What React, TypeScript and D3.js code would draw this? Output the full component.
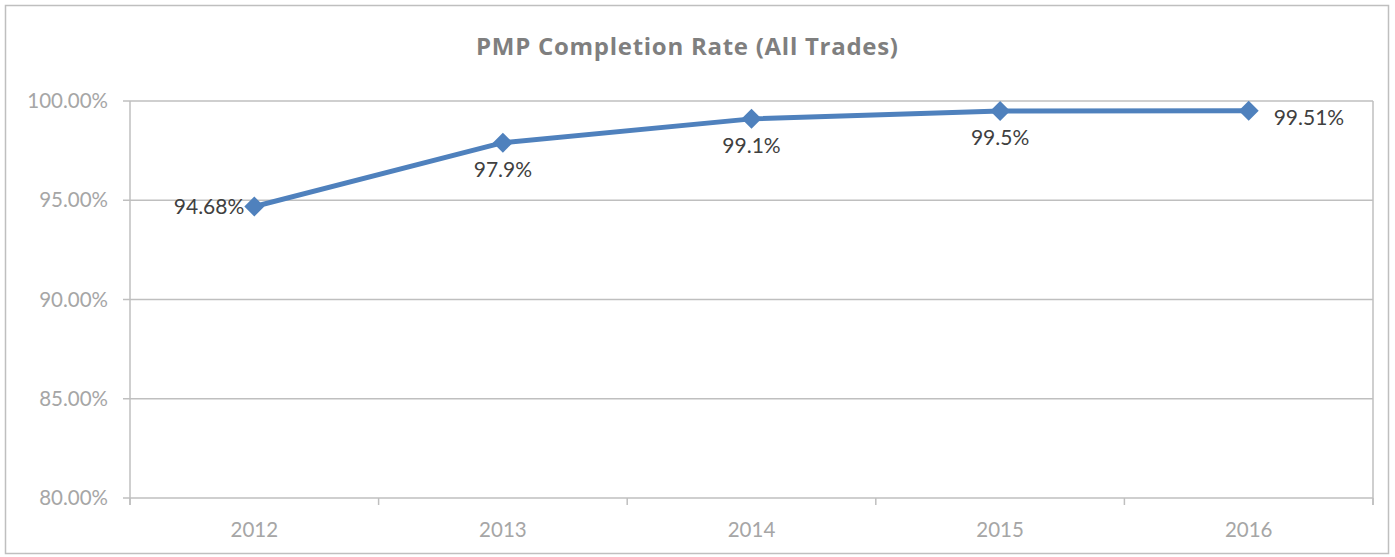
import React from "react";
import * as d3 from "d3";

const years = ["2012", "2013", "2014", "2015", "2016"];
const rates = [94.68, 97.9, 99.1, 99.5, 99.51];
const rateLabels = ["94.68%", "97.9%", "99.1%", "99.5%", "99.51%"];
const labelPositions = ["left", "below", "below", "below", "right"];
const yTicks = [80, 85, 90, 95, 100];
const title = "PMP Completion Rate (All Trades)";

const W = 1395;
const H = 557;
const plot = { left: 130, right: 1373, top: 101, bottom: 498 };
const FONT = "Lato, 'Open Sans', sans-serif";

export default function App() {
  const x = d3.scaleBand<string>().domain(years).range([plot.left, plot.right]);
  const y = d3.scaleLinear().domain([80, 100]).range([plot.bottom, plot.top]);
  const cx = (d: string) => (x(d) as number) + x.bandwidth() / 2;
  const line = d3
    .line<number>()
    .x((_, i) => cx(years[i]))
    .y((d) => y(d));
  const boundaries = years.map((d) => x(d) as number).concat([plot.right]);
  const diamond = d3.symbol(d3.symbolSquare, 200)();

  return (
    <svg
      width={W}
      height={H}
      style={{ position: "absolute", left: 0, top: 0, background: "#fff" }}
      fontFamily={FONT}
    >
      <rect x={5.5} y={5.5} width={1383} height={548} fill="#fff" stroke="#BFBFBF" strokeWidth={1.5} />
      <text
        x={687}
        y={55}
        textAnchor="middle"
        fontSize={24}
        fontWeight={700}
        fill="#7F7F7F"
        fontFamily="'Open Sans', sans-serif"
        textLength={422}
        lengthAdjust="spacing"
      >
        {title}
      </text>
      {yTicks.map((t) => (
        <g key={t}>
          <line x1={123} x2={plot.right} y1={y(t)} y2={y(t)} stroke="#BFBFBF" strokeWidth={1.5} />
          <text x={108} y={y(t)} dy="0.35em" textAnchor="end" fontSize={20.5} fill="#A6A6A6">
            {d3.format(".2f")(t) + "%"}
          </text>
        </g>
      ))}
      <line x1={plot.left} x2={plot.left} y1={plot.top} y2={plot.bottom + 7} stroke="#BFBFBF" strokeWidth={1.5} />
      <line x1={plot.right} x2={plot.right} y1={plot.top} y2={plot.bottom + 7} stroke="#BFBFBF" strokeWidth={1.5} />
      {boundaries.map((b, i) => (
        <line key={i} x1={b} x2={b} y1={plot.bottom} y2={plot.bottom + 7} stroke="#BFBFBF" strokeWidth={1.5} />
      ))}
      {years.map((d) => (
        <text key={d} x={cx(d)} y={537} textAnchor="middle" fontSize={20.5} fill="#A6A6A6">
          {d}
        </text>
      ))}
      <path d={line(rates) || ""} fill="none" stroke="#4F81BD" strokeWidth={5} strokeLinejoin="round" />
      {rates.map((v, i) => (
        <path
          key={i}
          d={diamond || ""}
          transform={`translate(${cx(years[i])},${y(v)}) rotate(45)`}
          fill="#4F81BD"
        />
      ))}
      {rates.map((v, i) => {
        const px = cx(years[i]);
        const py = y(v);
        const pos = labelPositions[i];
        let tx = px;
        let ty = py;
        let anchor: "start" | "middle" | "end" = "middle";
        if (pos === "left") {
          tx = px - 10;
          anchor = "end";
          ty = py + 7;
        } else if (pos === "right") {
          tx = px + 25;
          anchor = "start";
          ty = py + 14;
        } else {
          ty = py + 34;
        }
        return (
          <text key={i} x={tx} y={ty} textAnchor={anchor} fontSize={21} fill="#404040">
            {rateLabels[i]}
          </text>
        );
      })}
    </svg>
  );
}
